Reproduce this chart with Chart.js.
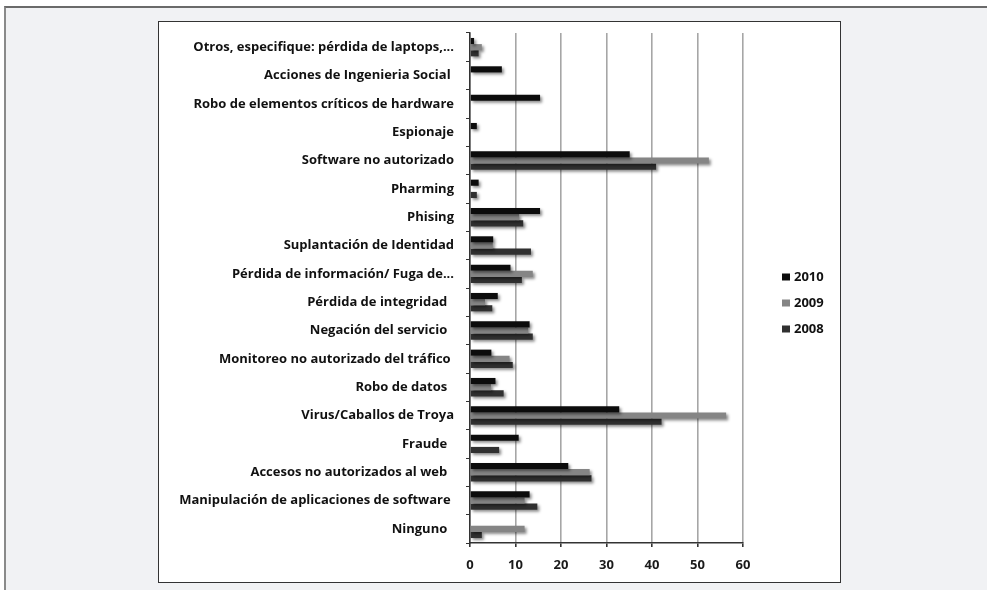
<!DOCTYPE html>
<html lang="es">
<head>
<meta charset="utf-8">
<script src="https://cdn.jsdelivr.net/npm/chart.js@4/dist/chart.umd.min.js"></script>
<style>
  html, body { margin: 0; padding: 0; background: #ffffff; }
  body { width: 987px; height: 590px; position: relative; overflow: hidden; }
  .panel {
    position: absolute; left: 4px; top: 6px; width: 990px; height: 600px;
    background: #f1f2f4; border-top: 2px solid #6a6a6a; border-left: 2px solid #8a8a8a;
  }
  .frame {
    position: absolute; left: 158px; top: 21px; width: 681px; height: 560px;
    background: #ffffff; border: 1.5px solid #333333;
  }
  #chart { position: absolute; left: 160px; top: 23px; }
</style>
</head>
<body>
<div class="panel"></div>
<div class="frame"></div>
<canvas id="chart" width="680" height="559"></canvas>
<script>
// Incident categories, listed top to bottom
const categories = [
  "Otros, especifique: pérdida de laptops,...",
  "Acciones de Ingenieria Social ",
  "Robo de elementos críticos de hardware",
  "Espionaje",
  "Software no autorizado",
  "Pharming",
  "Phising",
  "Suplantación de Identidad",
  "Pérdida de información/ Fuga de...",
  "Pérdida de integridad  ",
  "Negación del servicio  ",
  "Monitoreo no autorizado del tráfico ",
  "Robo de datos  ",
  "Virus/Caballos de Troya",
  "Fraude  ",
  "Accesos no autorizados al web  ",
  "Manipulación de aplicaciones de software ",
  "Ninguno  "
];

// Percentages per year
const values2010 = [0.9, 7.0, 15.4, 1.5, 35.1, 1.9, 15.4, 5.1, 8.9, 6.1, 13.1, 4.7, 5.6, 32.8, 10.7, 21.6, 13.1, null];
const values2009 = [2.6, null, null, null, 52.5, null, 10.8, 5.0, 13.8, 3.3, 12.8, 8.7, 4.6, 56.3, null, 26.3, 12.0, 12.0];
const values2008 = [1.9, null, null, null, 40.9, 1.5, 11.7, 13.4, 11.4, 4.9, 13.8, 9.4, 7.4, 42.1, 6.4, 26.7, 14.8, 2.6];

const seriesNames = ["2010", "2009", "2008"];
const xTicks = [0, 10, 20, 30, 40, 50, 60];

const FONT = "'Open Sans', 'DejaVu Sans', sans-serif";

// Soft drop shadow under the bars
const barShadow = {
  id: 'barShadow',
  beforeDatasetsDraw(chart) {
    const ctx = chart.ctx;
    ctx.save();
    ctx.shadowColor = 'rgba(0,0,0,0.45)';
    ctx.shadowBlur = 3;
    ctx.shadowOffsetX = 2;
    ctx.shadowOffsetY = 2;
  },
  afterDatasetsDraw(chart) {
    chart.ctx.restore();
  }
};

// Legend drawn beside the plot, from the datasets
const sideLegend = {
  id: 'sideLegend',
  afterDraw(chart) {
    const ctx = chart.ctx;
    const area = chart.chartArea;
    const x0 = area.right + 39;
    const step = 26;
    const n = chart.data.datasets.length;
    const yMid = (area.top + area.bottom) / 2 + 15;
    ctx.save();
    ctx.font = "bold 13px " + FONT;
    ctx.textBaseline = 'middle';
    ctx.textAlign = 'left';
    chart.data.datasets.forEach((ds, i) => {
      const y = yMid + (i - (n - 1) / 2) * step;
      ctx.fillStyle = ds.legendColor;
      ctx.fillRect(x0, y - 3.5, 8, 7);
      ctx.fillStyle = '#111111';
      ctx.fillText(ds.label, x0 + 12, y);
    });
    ctx.restore();
  }
};

const PLOT_LEFT = 310, PLOT_TOP = 10, PLOT_BOTTOM = 520, PLOT_RIGHT = 583;

new Chart(document.getElementById('chart'), {
  type: 'bar',
  data: {
    labels: categories,
    datasets: [
      { label: seriesNames[0], data: values2010, backgroundColor: '#0c0c0c', legendColor: '#0c0c0c' },
      { label: seriesNames[1], data: values2009, backgroundColor: '#858585', legendColor: '#858585' },
      { label: seriesNames[2], data: values2008, backgroundColor: '#303030', legendColor: '#303030' }
    ]
  },
  options: {
    indexAxis: 'y',
    responsive: false,
    animation: false,
    devicePixelRatio: 1,
    layout: { padding: { top: PLOT_TOP, right: 680 - PLOT_RIGHT, bottom: 0, left: 0 } },
    datasets: {
      bar: { categoryPercentage: 0.65, barPercentage: 1.0, borderWidth: 0 }
    },
    plugins: {
      legend: { display: false },
      tooltip: { enabled: false }
    },
    scales: {
      x: {
        min: 0, max: 60,
        afterBuildTicks(scale) { scale.ticks = xTicks.map(v => ({ value: v })); },
        afterFit(scale) { scale.height = 559 - PLOT_BOTTOM; },
        grid: { color: '#a6a6a6', lineWidth: 1.6, tickLength: 4, tickColor: '#333333' },
        border: { color: '#333333', width: 1.5 },
        ticks: { color: '#1a1a1a', padding: 10, font: { family: FONT, size: 13, weight: 'bold' } }
      },
      y: {
        afterFit(scale) {
          scale.width = PLOT_LEFT;
          scale.paddingTop = 0;
          scale.paddingBottom = 0;
        },
        grid: { drawOnChartArea: false, offset: true, tickLength: 4, tickColor: '#333333', lineWidth: 1 },
        border: { color: '#333333', width: 1.5 },
        ticks: { color: '#111111', padding: 12, autoSkip: false, font: { family: FONT, size: 13, weight: 'bold' } }
      }
    }
  },
  plugins: [barShadow, sideLegend]
});
</script>
</body>
</html>
